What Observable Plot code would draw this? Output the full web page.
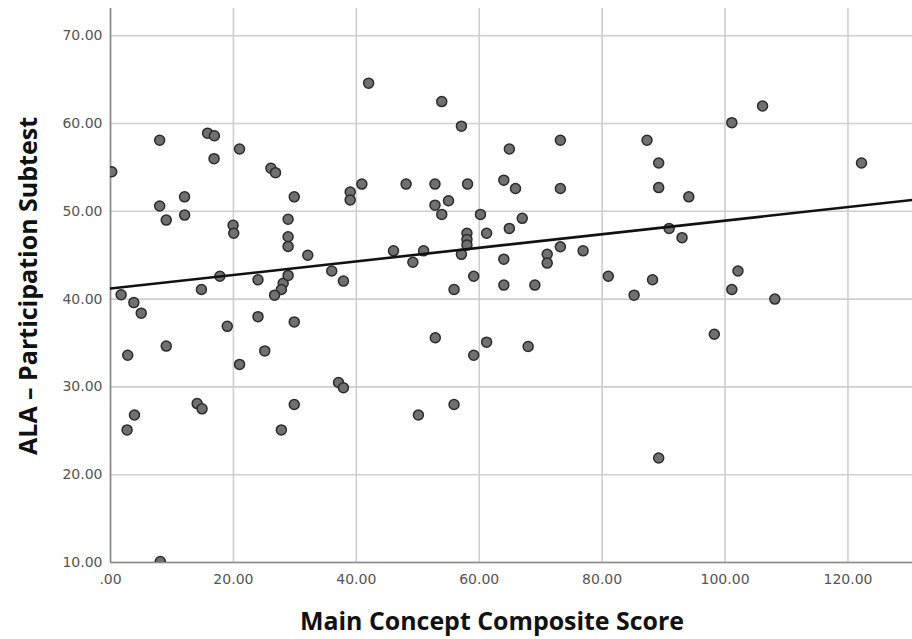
<!DOCTYPE html>
<html>
<head>
<meta charset="utf-8">
<script src="https://cdn.jsdelivr.net/npm/d3@7"></script>
<script src="https://cdn.jsdelivr.net/npm/@observablehq/plot@0.6"></script>
<style>
  html, body { margin: 0; padding: 0; background: #fff; }
  #chart { width: 912px; height: 639px; }
</style>
</head>
<body>
<div id="chart"></div>
<script>
// Main Concept Composite Score (x) and ALA – Participation Subtest (y)
const xVals = [
  0.2, 8.0, 15.8, 16.9, 16.85, 21.0, 26.1, 26.85, 29.9, 8.0,
  12.05, 9.07, 12.06, 19.95, 20.05, 28.9, 28.9, 28.9, 32.1, 17.8,
  1.73, 3.8, 5.0, 14.8, 24.0, 28.1, 27.8, 26.7, 28.9, 24.0,
  29.9, 19.0, 9.07, 2.8, 25.1, 21.0, 14.1, 14.9, 29.9, 3.9,
  2.7, 27.8, 8.1, 42.0, 53.9, 57.1, 64.9, 73.2, 40.9, 48.1,
  52.8, 58.1, 64.0, 65.9, 73.2, 39.0, 39.0, 55.0, 52.8, 53.9,
  60.2, 67.0, 61.2, 64.9, 58.0, 58.0, 58.0, 57.1, 46.05, 50.95,
  49.2, 36.0, 37.9, 64.0, 71.06, 71.06, 73.2, 76.9, 59.1, 55.9,
  64.0, 69.05, 81.0, 52.85, 61.2, 59.1, 67.96, 37.1, 37.9, 55.9,
  50.1, 106.1, 101.1, 87.3, 89.2, 122.2, 89.2, 94.1, 90.9, 93.0,
  88.2, 85.2, 102.1, 101.1, 108.1, 98.25, 89.2
];
const yVals = [
  54.5, 58.1, 58.9, 58.6, 56.0, 57.1, 54.9, 54.4, 51.65, 50.6,
  51.65, 49.0, 49.57, 48.4, 47.5, 49.1, 47.1, 46.0, 45.0, 42.6,
  40.5, 39.6, 38.4, 41.1, 42.2, 41.8, 41.1, 40.45, 42.7, 38.0,
  37.4, 36.9, 34.65, 33.6, 34.1, 32.56, 28.1, 27.5, 28.0, 26.8,
  25.1, 25.1, 10.1, 64.6, 62.5, 59.7, 57.1, 58.1, 53.1, 53.1,
  53.1, 53.1, 53.55, 52.6, 52.6, 52.2, 51.3, 51.2, 50.7, 49.65,
  49.65, 49.2, 47.5, 48.05, 47.5, 46.8, 46.15, 45.1, 45.5, 45.5,
  44.2, 43.2, 42.05, 44.55, 45.1, 44.1, 45.96, 45.5, 42.6, 41.1,
  41.6, 41.6, 42.6, 35.6, 35.1, 33.6, 34.6, 30.5, 29.9, 28.0,
  26.8, 62.0, 60.1, 58.1, 55.5, 55.5, 52.7, 51.65, 48.05, 47.0,
  42.2, 40.45, 43.2, 41.1, 40.0, 36.0, 21.9
];

// Fit line
const fitX = [0, 130.5];
const fitY = [41.2, 51.3];

// Ticks
const xTicks = [0, 20, 40, 60, 80, 100, 120];
const xTickLabels = [".00", "20.00", "40.00", "60.00", "80.00", "100.00", "120.00"];
const yTicks = [10, 20, 30, 40, 50, 60, 70];
const yTickLabels = ["10.00", "20.00", "30.00", "40.00", "50.00", "60.00", "70.00"];

const xTitle = "Main Concept Composite Score";
const yTitle = "ALA \u2013 Participation Subtest";

const points = xVals.map((x, i) => ({x, y: yVals[i]}));
const fit = fitX.map((x, i) => ({x, y: fitY[i]}));

const plot = Plot.plot({
  width: 912,
  height: 639,
  marginLeft: 110,
  marginRight: 0,
  marginTop: 8,
  marginBottom: 77,
  style: {fontFamily: "DejaVu Sans", fontSize: "14px", background: "#fff", overflow: "visible"},
  x: {domain: [0, 130.5]},
  y: {domain: [10, 73.1]},
  marks: [
    Plot.gridX(xTicks, {stroke: "#cfcfcf", strokeOpacity: 1, strokeWidth: 1.6}),
    Plot.gridY(yTicks, {stroke: "#cfcfcf", strokeOpacity: 1, strokeWidth: 1.6}),
    Plot.axisX(xTicks, {
      tickSize: 0, tickPadding: 12, label: null, fill: "#555",
      tickFormat: d => xTickLabels[xTicks.indexOf(d)]
    }),
    Plot.axisY(yTicks, {
      tickSize: 0, tickPadding: 8, label: null, fill: "#555",
      tickFormat: d => yTickLabels[yTicks.indexOf(d)]
    }),
    Plot.ruleX([0], {stroke: "#8a8a8a", strokeWidth: 1.6}),
    Plot.ruleY([10], {stroke: "#8a8a8a", strokeWidth: 1.6}),
    Plot.dot(points, {x: "x", y: "y", r: 5, fill: "#707070", stroke: "#2b2b2b", strokeWidth: 1.5, clip: true}),
    Plot.line(fit, {x: "x", y: "y", stroke: "#111", strokeWidth: 2.6, clip: true})
  ]
});

const svg = d3.select(plot);
svg.append("text")
  .attr("x", 492).attr("y", 630)
  .attr("text-anchor", "middle")
  .attr("font-family", "Open Sans")
  .attr("font-weight", "bold")
  .attr("font-size", 25)
  .attr("fill", "#111")
  .attr("textLength", 384)
  .attr("lengthAdjust", "spacingAndGlyphs")
  .text(xTitle);
svg.append("text")
  .attr("transform", "translate(37,286) rotate(-90)")
  .attr("text-anchor", "middle")
  .attr("font-family", "Open Sans")
  .attr("font-weight", "bold")
  .attr("font-size", 25)
  .attr("fill", "#111")
  .attr("textLength", 338)
  .attr("lengthAdjust", "spacingAndGlyphs")
  .text(yTitle);

document.getElementById("chart").appendChild(plot);
</script>
</body>
</html>
